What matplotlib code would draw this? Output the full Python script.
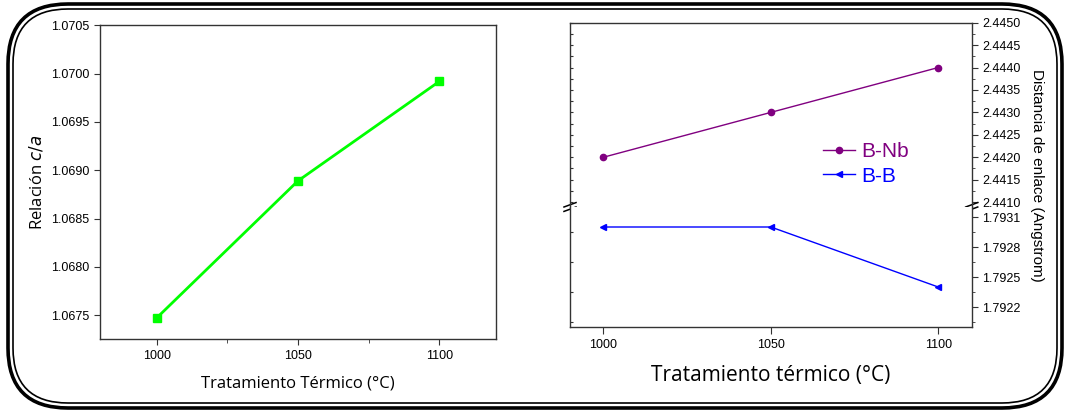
import matplotlib
matplotlib.use("Agg")
import matplotlib.pyplot as plt
from matplotlib.patches import FancyBboxPatch
from matplotlib.ticker import MultipleLocator, FixedLocator

# left panel: c/a ratio vs heat treatment
temps = [1000, 1050, 1100]
ca_ratio = [1.06747, 1.06889, 1.06992]

# right panel: bond distances (broken axis)
b_nb = [2.4420, 2.4430, 2.4440]
b_b = [1.7930, 1.7930, 1.7924]
series_labels = ["B-Nb", "B-B"]

W, H = 1078, 412
fig = plt.figure(figsize=(W / 100, H / 100), dpi=100)
plt.rcParams["font.family"] = ["Liberation Sans", "DejaVu Sans"]


def box(l, t, r, b):
    return [l / W, 1 - b / H, (r - l) / W, (b - t) / H]


# rounded double frame drawn in pixel coordinates
bg = fig.add_axes([0, 0, 1, 1], zorder=0)
bg.set_xlim(0, W); bg.set_ylim(H, 0); bg.axis("off")
bg.add_patch(FancyBboxPatch((8 + 60, 4 + 60), 1054 - 120, 404 - 120,
                            boxstyle="round,pad=60", fc="none", ec="black", lw=2.6))
bg.add_patch(FancyBboxPatch((13 + 55, 9 + 55), 1044 - 110, 394 - 110,
                            boxstyle="round,pad=55", fc="none", ec="black", lw=1.2))

tick_fs = 9

# ---------- left panel ----------
ax = fig.add_axes(box(100, 25.3, 496, 339.3), zorder=2)
ax.plot(temps, ca_ratio, color="#00ff00", lw=2, marker="s", ms=5.5, mec="#00ff00")
ax.set_xlim(980, 1120)
ax.set_ylim(1.06725, 1.0705)
ax.set_xticks(temps)
ax.xaxis.set_minor_locator(FixedLocator([1025, 1075]))
ax.yaxis.set_major_locator(MultipleLocator(0.0005))
ax.yaxis.set_major_formatter(plt.FormatStrFormatter("%.4f"))
ax.tick_params(which="both", direction="out", labelsize=tick_fs, color="#333333")
ax.tick_params(which="major", length=4)
ax.tick_params(which="minor", length=3)
for s in ax.spines.values():
    s.set_color("#333333"); s.set_linewidth(1.0)
ax.set_xlabel("Tratamiento Térmico (°C)", fontsize=12, family="Open Sans", labelpad=10)
ax.set_ylabel("Relación $\\it{c/a}$", fontsize=12, family="Open Sans", labelpad=4)

# ---------- right panel (broken y axis) ----------
axt = fig.add_axes(box(570, 22.7, 971.7, 207), zorder=2)
axb = fig.add_axes(box(570, 207, 971.7, 327), zorder=2, sharex=axt)

l1, = axt.plot(temps, b_nb, color="#800080", lw=1, marker="o", ms=4.5)
l2, = axb.plot(temps, b_b, color="#0000ff", lw=1, marker="<", ms=5)

axt.set_xlim(990, 1110)
axt.set_ylim(2.44089, 2.4450)
axb.set_ylim(1.7920, 1.7932)
axt.yaxis.set_major_locator(MultipleLocator(0.0005))
axt.yaxis.set_minor_locator(MultipleLocator(0.00025))
axb.yaxis.set_major_locator(FixedLocator([1.7922, 1.7925, 1.7928, 1.7931]))
axb.yaxis.set_minor_locator(FixedLocator([1.79205, 1.79235, 1.79265, 1.79295]))
for a in (axt, axb):
    a.yaxis.tick_right()
    a.yaxis.set_major_formatter(plt.FormatStrFormatter("%.4f"))
    a.tick_params(which="both", labelsize=tick_fs, color="#333333")
    a.tick_params(which="major", length=4)
    a.tick_params(which="minor", length=2.5)
    for s in a.spines.values():
        s.set_color("#333333"); s.set_linewidth(1.0)
    sec = a.secondary_yaxis("left")
    sec.yaxis.set_major_locator(a.yaxis.get_minor_locator())
    sec.tick_params(direction="in", length=2, labelleft=False, color="#333333")
    sec.spines["left"].set_visible(False)

axt.spines["bottom"].set_visible(False)
axb.spines["top"].set_visible(False)
axt.tick_params(axis="x", bottom=False, labelbottom=False)
axb.set_xticks(temps)
axb.tick_params(axis="x", length=5, labelsize=tick_fs)

# break marks on both spines
for xf in (0, 1):
    for dy in (-0.012, 0.012):
        axt.plot([xf - 0.015, xf + 0.015], [dy - 0.012, dy + 0.012],
                 transform=axt.transAxes, color="black", lw=1.1, clip_on=False)

axb.set_xlabel("Tratamiento térmico (°C)", fontsize=15, family="Open Sans", labelpad=10)
fig.text(1037 / W, 1 - 175 / H, "Distancia de enlace (Angstrom)", rotation=-90,
         ha="center", va="center", fontsize=11)

leg = axt.legend([l1, l2], series_labels, loc="upper left",
                 bbox_to_anchor=((815 - 570) / 401.7, 1 - (134 - 22.7) / 184.3),
                 frameon=False, fontsize=15, handlelength=1.5, handletextpad=0.3,
                 labelspacing=0.25, borderaxespad=0)
for txt, ln in zip(leg.get_texts(), (l1, l2)):
    txt.set_color(ln.get_color())
leg.set_zorder(5)

fig.savefig("out.png", dpi=100)
